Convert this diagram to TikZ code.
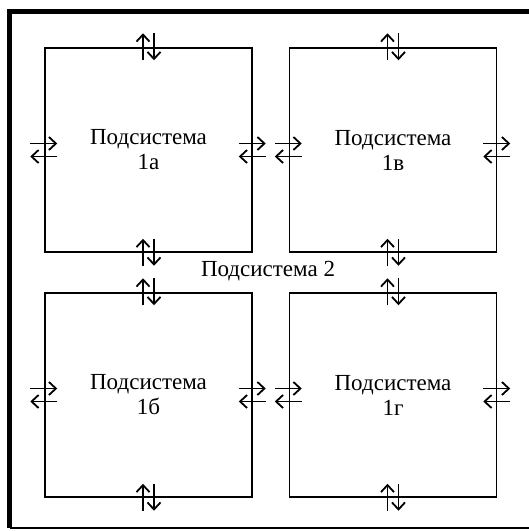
\documentclass[tikz,border=0pt]{standalone}
\usepackage{fontspec}
\setmainfont{Liberation Serif}
\usepackage{tikz}
\usetikzlibrary{arrows.meta,calc,positioning}

\tikzset{
  subsys/.style={draw, line width=0.75pt, minimum width=103.5pt, minimum height=102pt,
    align=center, font={\fontsize{11.5}{12.5}\selectfont}},
  flow/.style={-{Straight Barb[length=3.5pt,width=6.5pt]}, line width=0.9pt}
}

\begin{document}
\begin{tikzpicture}[x=0.5pt, y=-0.5pt]
\useasboundingbox (0,0) rectangle (529,531);
% outer frame
\draw[line width=2.5pt] (529,11.5) -- (9.5,11.5) -- (9.5,528);
\draw[line width=1pt] (9.5,528) -- (529,528);
% subsystems
\node[subsys] (s1a) at (148.5,150) {Подсистема\\1а};
\node[subsys] (s1v) at (393,150) {Подсистема\\1в};
\node[subsys] (s1b) at (148.5,395) {Подсистема\\1б};
\node[subsys] (s1g) at (393,395) {Подсистема\\1г};
\node[font={\fontsize{11.5}{12.5}\selectfont}] (s2) at (268,271) {Подсистема 2};
% exchange arrows on every side
\foreach \n in {s1a,s1v,s1b,s1g} {
  \draw[flow] ([shift={(-5.5,13)}]\n.north) -- ++(0,-27);
  \draw[flow] ([shift={(5.5,-14)}]\n.north) -- ++(0,27);
  \draw[flow] ([shift={(-5.5,13)}]\n.south) -- ++(0,-27);
  \draw[flow] ([shift={(5.5,-14)}]\n.south) -- ++(0,27);
  \draw[flow] ([shift={(-14,-6.5)}]\n.west) -- ++(27,0);
  \draw[flow] ([shift={(13,6.5)}]\n.west) -- ++(-27,0);
  \draw[flow] ([shift={(-14,-6.5)}]\n.east) -- ++(27,0);
  \draw[flow] ([shift={(13,6.5)}]\n.east) -- ++(-27,0);
}
\end{tikzpicture}
\end{document}
